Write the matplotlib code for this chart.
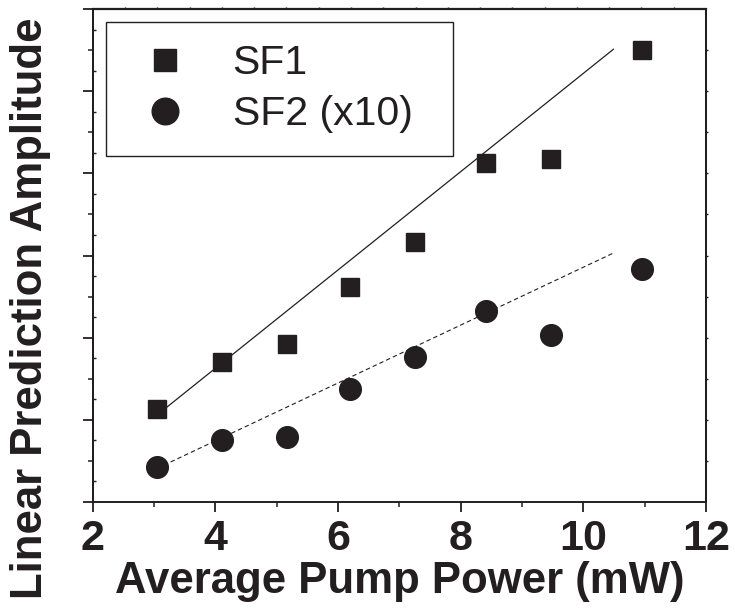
import numpy as np
import matplotlib.pyplot as plt
from matplotlib.ticker import MultipleLocator, NullFormatter

# pump power (mW) and amplitudes read in units of the left-axis major ticks
power = [3.05, 4.10, 5.16, 6.20, 7.26, 8.42, 9.47, 10.95]
sf1 = [1.13, 1.70, 1.92, 2.62, 3.16, 4.13, 4.18, 5.50]
sf2 = [0.42, 0.76, 0.79, 1.38, 1.76, 2.33, 2.03, 2.83]

# straight-line fits, given by their end points
fit_x = [3.05, 10.49]
sf1_fit = [1.06, 5.51]
sf2_fit = [0.41, 3.03]

ink = '#231f20'
plt.rcParams['font.family'] = ['Liberation Sans', 'DejaVu Sans']

fig = plt.figure(figsize=(7.35, 6.1), dpi=100)
ax = fig.add_axes([92.8/735, 108/610, 613.2/735, 493/610])

ax.plot(fit_x, sf1_fit, '-', color=ink, lw=0.9)
ax.plot(fit_x, sf2_fit, color=ink, lw=0.8, dashes=(4, 2.7))
ax.plot(power, sf1, 's', color=ink, ms=13.3, label='SF1')
ax.plot(power, sf2, 'o', color=ink, ms=15.6, label='SF2 (x10)')

ax.set_xlim(2, 12)
ax.set_ylim(0, 6)
ax.xaxis.set_major_locator(MultipleLocator(2))
ax.xaxis.set_minor_locator(MultipleLocator(1))
ax.yaxis.set_major_locator(MultipleLocator(1))
ax.yaxis.set_minor_locator(MultipleLocator(0.5))
ax.yaxis.set_major_formatter(NullFormatter())
ax.tick_params(which='major', direction='out', length=7.5, width=1.3,
               color=ink, labelsize=31, labelcolor=ink, pad=5)
ax.tick_params(which='minor', direction='out', length=3.8, width=1.1, color=ink)
for lbl in ax.get_xticklabels():
    lbl.set_fontweight('bold')
for sp in ax.spines.values():
    sp.set_linewidth(1.4)
    sp.set_color(ink)

# small ticks on the other edges
top = ax.secondary_xaxis('top')
top.set_ticks(np.linspace(2, 12, 20)[1:-1])
top.xaxis.set_major_formatter(NullFormatter())
top.tick_params(direction='out', length=1.2, width=1.0, color=ink)
top.spines['top'].set_linewidth(1.6)

right = ax.secondary_yaxis('right')
right.set_ticks(np.arange(0.5, 6, 0.5))
right.yaxis.set_major_formatter(NullFormatter())
right.tick_params(direction='out', length=1.2, width=1.0, color=ink)
right.spines['right'].set_linewidth(1.4)

inner = ax.secondary_yaxis('left')
inner.set_ticks(np.arange(0.25, 6, 0.5))
inner.yaxis.set_major_formatter(NullFormatter())
inner.tick_params(direction='in', length=2.0, width=1.0, color=ink)
inner.spines['left'].set_linewidth(1.4)

ax.set_xlabel('Average Pump Power (mW)', fontsize=31.5, fontweight='bold',
              color=ink, labelpad=1)
ax.set_ylabel('Linear Prediction Amplitude', fontsize=31.5, fontweight='bold',
              color=ink)
ax.yaxis.set_label_coords(-0.068, 0.393)

leg = ax.legend(loc='upper left', bbox_to_anchor=(0.0215, 0.71, 0.566, 0.264),
                mode='expand', fontsize=29.5, markerscale=1.23, borderpad=0.54,
                handlelength=1.79, handletextpad=0.76, labelspacing=0.33,
                fancybox=False, edgecolor=ink, framealpha=1, borderaxespad=0)
leg.get_frame().set_linewidth(1.0)
for t in leg.get_texts():
    t.set_color(ink)

fig.savefig('out.png', dpi=100)
